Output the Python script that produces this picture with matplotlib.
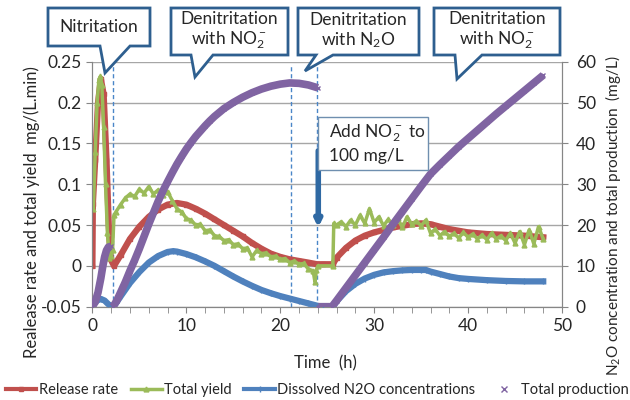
import numpy as np
import matplotlib
matplotlib.use("Agg")
import matplotlib.pyplot as plt
from matplotlib.lines import Line2D
from matplotlib.patches import Polygon, Rectangle

plt.rcParams["font.family"] = ["Lato", "DejaVu Sans"]
plt.rcParams["mathtext.fontset"] = "custom"
plt.rcParams["mathtext.rm"] = "Lato"
plt.rcParams["mathtext.default"] = "regular"

# ---- data ----
# release rate, left axis, mg/(L.min)
red_t = [0, 0.05, 0.3, 0.6, 0.9, 1.2, 1.5, 1.75, 1.95, 2.3, 3, 4, 5, 6, 7, 8, 9, 10,
         11, 12, 13, 14, 15, 16, 17, 18, 19, 20, 21, 22, 23, 23.9, 24.5, 25.6, 26,
         27, 28, 29, 30, 31, 32, 33, 34, 35, 36, 37, 38, 39, 40, 42, 44, 46, 48]
red_v = [0, 0.076, 0.13, 0.20, 0.229, 0.21, 0.13, 0.048, 0.008, 0.0, 0.013, 0.033,
         0.048, 0.060, 0.069, 0.075, 0.077, 0.075, 0.070, 0.064, 0.057, 0.050, 0.043,
         0.036, 0.028, 0.021, 0.015, 0.011, 0.008, 0.006, 0.004, 0.002, 0.002, 0.002,
         0.010, 0.022, 0.031, 0.037, 0.041, 0.044, 0.047, 0.049, 0.051, 0.052, 0.051,
         0.048, 0.045, 0.043, 0.041, 0.039, 0.038, 0.037, 0.035]

# total yield, left axis (noisy trace)
green_t = [0.1, 0.3, 0.5, 0.7, 0.85, 1.0, 1.2, 1.4, 1.6, 1.8, 2.0, 2.15,
           2.3, 2.5, 3.0, 3.5, 4.0, 4.5, 5.0, 5.5, 6.0, 6.5, 7.0, 7.5, 8.0, 8.5, 9.0,
           9.5, 10.0, 10.5, 11.0, 11.5, 12.0, 12.5, 13.0, 13.5, 14.0, 14.5, 15.0, 15.5,
           16.0, 16.5, 17.0, 17.5, 18.0, 18.5, 19.0, 19.5, 20.0, 20.5, 21.0, 21.5, 22.0,
           22.5, 23.0, 23.5, 23.7, 23.85, 24.0, 25.6, 25.7,
           26.0, 26.5, 27.0, 27.5, 28.0, 28.5, 29.0, 29.5, 30.0, 30.5, 31.0, 31.5, 32.0,
           32.5, 33.0, 33.5, 34.0, 34.5, 35.0, 35.5, 36.0, 36.5, 37.0, 37.5, 38.0, 38.5,
           39.0, 39.5, 40.0, 40.5, 41.0, 41.5, 42.0, 42.5, 43.0, 43.5, 44.0, 44.5, 45.0,
           45.5, 46.0, 46.5, 47.0, 47.5, 48.0]
green_v = [0.07, 0.14, 0.20, 0.228, 0.232, 0.222, 0.17, 0.10, 0.04, 0.01, 0.012, 0.02,
           0.062, 0.066, 0.075, 0.083, 0.088, 0.085, 0.094, 0.089, 0.097, 0.088, 0.093,
           0.087, 0.091, 0.080, 0.070, 0.066, 0.058, 0.056, 0.050, 0.051, 0.043, 0.044,
           0.037, 0.036, 0.031, 0.032, 0.026, 0.027, 0.021, 0.022, 0.011, 0.019, 0.015,
           0.016, 0.011, 0.012, 0.008, 0.009, 0.004, 0.006, 0.002, 0.003, -0.004, -0.006,
           -0.02, -0.005, 0.0, 0.0, 0.052,
           0.050, 0.054, 0.048, 0.056, 0.050, 0.062, 0.052, 0.070, 0.053, 0.060, 0.049,
           0.057, 0.050, 0.058, 0.047, 0.060, 0.051, 0.055, 0.049, 0.056, 0.040, 0.045,
           0.037, 0.042, 0.036, 0.040, 0.034, 0.041, 0.035, 0.039, 0.033, 0.038, 0.032,
           0.040, 0.033, 0.037, 0.031, 0.040, 0.028, 0.042, 0.026, 0.044, 0.027, 0.048,
           0.033]

# dissolved N2O, right axis, mg/L
blue_t = [0, 0.5, 0.9, 1.3, 1.7, 2.1, 2.5, 3, 4, 5, 6, 7, 8, 8.6, 9, 10, 11, 12, 13,
          14, 15, 16, 17, 18, 19, 20, 21, 22, 23, 24, 24.5, 25.6, 26, 27, 28, 29, 30,
          31, 32, 33, 34, 35, 35.5, 36, 37, 38, 39, 40, 42, 44, 46, 48]
blue_v = [0.4, 1.5, 1.9, 1.5, 0.6, 0.0, 0.8, 2.5, 5.8, 8.5, 10.8, 12.4, 13.4, 13.6,
          13.5, 12.9, 12.1, 11.1, 10.0, 8.7, 7.4, 6.2, 5.1, 4.1, 3.3, 2.6, 2.0, 1.4,
          0.8, 0.2, 0.0, 0.0, 1.3, 3.8, 5.6, 6.9, 7.8, 8.4, 8.7, 8.9, 9.0, 9.0, 9.0,
          8.6, 8.0, 7.4, 7.0, 6.8, 6.5, 6.3, 6.2, 6.2]

# total production, right axis, mg/L (three separate runs, nan = gap)
purple_t = [0, 0.3, 0.6, 0.9, 1.1, 1.3, 1.5, 1.7, 2.0, 2.05,
            2.2, 2.6, 3, 3.5, 4, 4.5, 5, 5.5, 6, 6.5, 7, 7.5, 8, 8.5, 9, 9.5, 10, 10.5,
            11, 11.5, 12, 12.5, 13, 14, 15, 16, 17, 18, 19, 20, 21, 22, 23, 24, 24.02,
            24.05, 25.5, 26, 27, 28, 29, 30, 31, 32, 33, 34, 35, 36, 37, 38, 39, 40,
            41, 42, 43, 44, 45, 46, 47, 48]
purple_v = [0, 1.2, 3.5, 7, 9.8, 12.2, 13.8, 14.6, 14.8, np.nan,
            0, 1.5, 3.5, 6, 8.8, 11.4, 14.2, 17.2, 20.2, 23, 25.8, 28.3, 30.6, 32.8,
            34.9, 36.8, 38.6, 40.2, 41.7, 43, 44.3, 45.5, 46.6, 48.5, 50.0, 51.3, 52.4,
            53.3, 54.0, 54.5, 54.8, 54.7, 54.3, 53.6, np.nan,
            0, 0, 1.5, 4.6, 7.7, 10.8, 13.9, 17, 20.2, 23.3, 26.4, 29.5, 32.5, 34.8,
            37, 39.2, 41.2, 43.2, 45.2, 47.2, 49.1, 51, 52.9, 54.8, 56.7]

phase_t = [2.2, 21.1, 23.9]      # dashed phase boundaries
dose_t = 24.05                    # NO2- addition
dose_from, dose_to = 0.141, 0.047

RED, GREEN, BLUE, PURPLE = "#C0504D", "#9BBB59", "#4F81BD", "#8064A2"
EDGE = "#2E5F8F"
GRIDC = "#A6A6A6"
TXT = "#262626"
W, H = 630, 400

fig = plt.figure(figsize=(W / 100, H / 100), dpi=100)
ax = fig.add_axes([92.4 / W, 1 - 306.7 / H, (562 - 92.4) / W, (306.7 - 61.7) / H])
ax2 = ax.twinx()

for t in phase_t:
    ax.axvline(t, ymin=0, ymax=0.985, color="#4A86C8", lw=1, ls=(0, (3, 2)), zorder=1)

ax.plot(red_t, red_v, color=RED, lw=4.5, marker="s", ms=3.5, zorder=3)
ax.plot(green_t, green_v, color=GREEN, lw=2.5, marker="^", ms=3.5, zorder=4)
ax2.plot(blue_t, blue_v, color=BLUE, lw=4.5, marker="|", ms=4, zorder=3)
ax2.plot(purple_t, purple_v, color=PURPLE, lw=5.5, marker="x", ms=3, solid_capstyle="butt", zorder=5)

ax.annotate("", xy=(dose_t, dose_to), xytext=(dose_t, dose_from),
            arrowprops=dict(arrowstyle="-|>", lw=4, color="#2F69A3", mutation_scale=9,
                            shrinkA=0, shrinkB=0), zorder=6)

ax.set_xlim(0, 50)
ax.set_ylim(-0.05, 0.25)
ax2.set_ylim(0, 60)
ax.set_xticks(range(0, 51, 10))
ax.set_xticks(range(0, 51, 2), minor=True)
ax.set_yticks([-0.05, 0, 0.05, 0.1, 0.15, 0.2, 0.25])
ax.set_yticklabels(["-0.05", "0", "0.05", "0.1", "0.15", "0.2", "0.25"])
ax2.set_yticks(range(0, 61, 10))
ax.yaxis.grid(True, color=GRIDC, lw=1)
ax.set_axisbelow(True)
for a in (ax, ax2):
    a.spines["top"].set_visible(False)
    for s in ("left", "right", "bottom"):
        a.spines[s].set_color("#868686")
    a.tick_params(which="both", direction="out", length=4, color="#868686",
                  labelsize=12.5, labelcolor=TXT)
ax.tick_params(axis="x", pad=4)
ax.tick_params(axis="y", pad=4)
ax2.tick_params(axis="y", pad=6)

fig.text(325 / W, 1 - 363 / H, "Time  (h)", ha="center", va="center", fontsize=12, color=TXT)
fig.text(32 / W, 1 - 212 / H, "Realease rate and total yield  mg/(L.min)", rotation=90,
         ha="center", va="center", fontsize=12, color=TXT)
fig.text(613 / W, 1 - 216 / H, "N$_2$O concentration and total production  (mg/L)",
         rotation=90, ha="center", va="center", fontsize=11, color=TXT)


def callout(box, tail, text, cx, cy):
    x0, y0, x1, y1 = box
    bl, br, tx, ty = tail
    pts = [(x0, y0), (x1, y0), (x1, y1), (br, y1), (tx, ty), (bl, y1), (x0, y1)]
    pts = [(x / W, 1 - y / H) for x, y in pts]
    fig.patches.append(Polygon(pts, closed=True, transform=fig.transFigure,
                               facecolor="white", edgecolor=EDGE, lw=2, zorder=10))
    fig.text(cx / W, 1 - cy / H, text, ha="center", va="center", fontsize=12.5,
             color=TXT, linespacing=1.2, zorder=11)


callout((48, 8, 150, 46), (100, 130, 105, 73), "Nitritation", 99, 27)
callout((171, 8, 288, 55), (191, 213, 195, 77), "Denitritation\nwith NO$_2^-$", 229, 31)
callout((298, 8, 419, 55), (316, 333, 305, 71), "Denitritation\nwith N$_2$O", 358, 31)
callout((434, 8, 560, 55), (455, 482, 457, 79), "Denitritation\nwith NO$_2^-$", 497, 31)

fig.patches.append(Rectangle((318 / W, 1 - 170 / H), 110 / W, 53 / H, transform=fig.transFigure,
                             facecolor="white", edgecolor="#6F8FAF", lw=1, zorder=10))
fig.text(329 / W, 1 - 143.5 / H, "Add NO$_2^-$ to\n100 mg/L", ha="left", va="center",
         fontsize=12.5, color=TXT, linespacing=1.3, zorder=11)

handles = [Line2D([], [], color=RED, lw=3, marker="s", ms=3.5),
           Line2D([], [], color=GREEN, lw=2.5, marker="^", ms=3.5),
           Line2D([], [], color=BLUE, lw=3, marker="|", ms=5),
           Line2D([], [], color=PURPLE, ls="none", marker="x", ms=5)]
fig.legend(handles,
           ["Release rate", "Total yield", "Dissolved N2O concentrations", "Total production"],
           loc="center", bbox_to_anchor=(317.5 / W, 1 - 390 / H), ncol=4, frameon=False,
           fontsize=10.5, handlelength=2.1, handletextpad=0.15, columnspacing=0.9,
           borderpad=0.1, borderaxespad=0, labelcolor=TXT)

fig.savefig("out.png", dpi=100)
